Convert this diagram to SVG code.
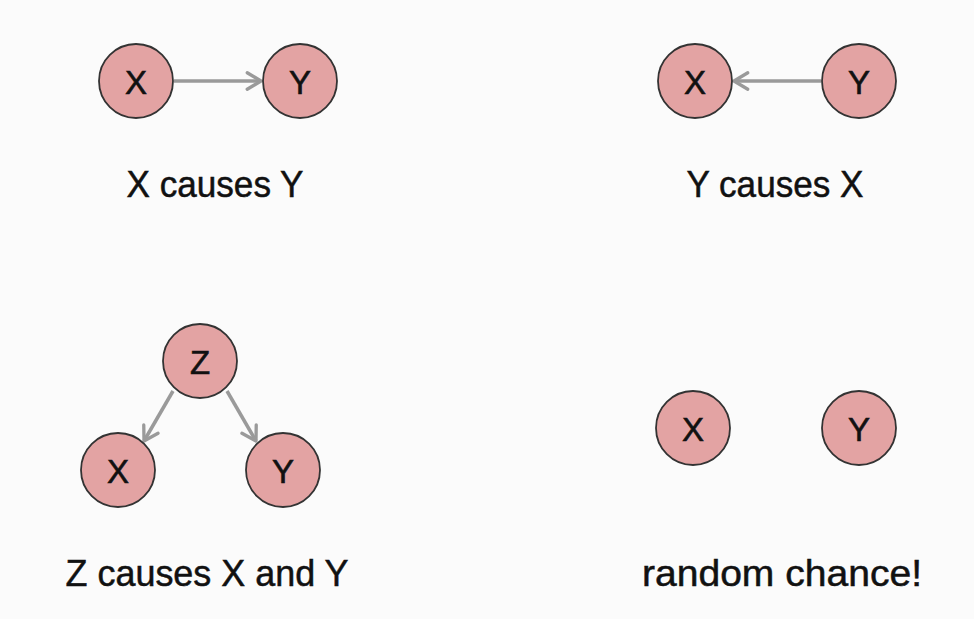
<svg xmlns="http://www.w3.org/2000/svg" width="974" height="619" viewBox="0 0 974 619">
<style>
.node circle{fill:#e3a3a3;stroke:#333;stroke-width:1.8}
.node text{font-family:"Liberation Sans",Arial,sans-serif;font-size:33px;fill:#111;stroke:#111;stroke-width:0.6;text-anchor:middle;dominant-baseline:central}
.lbl{font-family:"Liberation Sans",Arial,sans-serif;font-size:36px;fill:#111;stroke:#111;stroke-width:0.5;text-anchor:middle}
.edge{stroke:#9a9a9a;stroke-width:3.5;fill:none;marker-end:url(#ah)}
</style>
<defs>
<marker id="ah" viewBox="0 0 12 12" refX="10" refY="6" markerWidth="6.3" markerHeight="6.3" orient="auto" markerUnits="strokeWidth">
<path d="M2.5,1.5 L10,6 L2.5,10.5" fill="none" stroke="#9a9a9a" stroke-width="1.8" stroke-linecap="round" stroke-linejoin="round"/>
</marker>
</defs>
<rect width="974" height="619" fill="#fbfbfb"/>
<g id="connectors">
<line class="edge" x1="174" y1="81" x2="261" y2="81"/>
<line class="edge" x1="821" y1="81" x2="734" y2="81"/>
<line class="edge" x1="173" y1="391" x2="144" y2="441"/>
<line class="edge" x1="227" y1="391" x2="256" y2="441"/>
</g>
<g id="n1x" class="node"><circle cx="136" cy="81" r="37"/><text x="136" y="82">X</text></g>
<g id="n1y" class="node"><circle cx="300" cy="81" r="37"/><text x="300" y="82">Y</text></g>
<g id="n2x" class="node"><circle cx="695" cy="81" r="37"/><text x="695" y="82">X</text></g>
<g id="n2y" class="node"><circle cx="859" cy="81" r="37"/><text x="859" y="82">Y</text></g>
<g id="n3z" class="node"><circle cx="200" cy="361" r="37"/><text x="200" y="362">Z</text></g>
<g id="n3x" class="node"><circle cx="118" cy="470" r="37"/><text x="118" y="471">X</text></g>
<g id="n3y" class="node"><circle cx="283" cy="470" r="37"/><text x="283" y="471">Y</text></g>
<g id="n4x" class="node"><circle cx="693" cy="428" r="37"/><text x="693" y="429">X</text></g>
<g id="n4y" class="node"><circle cx="859" cy="428" r="37"/><text x="859" y="429">Y</text></g>
<text class="lbl" x="215" y="197" textLength="177" lengthAdjust="spacingAndGlyphs">X causes Y</text>
<text class="lbl" x="775" y="197" textLength="177" lengthAdjust="spacingAndGlyphs">Y causes X</text>
<text class="lbl" x="207" y="586" textLength="283" lengthAdjust="spacingAndGlyphs">Z causes X and Y</text>
<text class="lbl" x="782" y="586" textLength="280" lengthAdjust="spacingAndGlyphs">random chance!</text>
</svg>
